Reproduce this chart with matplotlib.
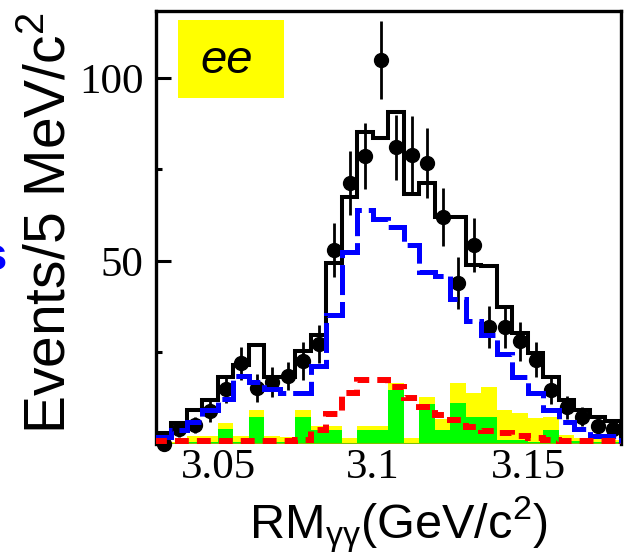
import matplotlib as mpl
import matplotlib.pyplot as plt
import numpy as np
from matplotlib.patches import Rectangle

mpl.rcParams["lines.scale_dashes"] = False
mpl.rcParams["mathtext.fontset"] = "custom"
mpl.rcParams["mathtext.rm"] = "Liberation Sans"
mpl.rcParams["mathtext.it"] = "Liberation Sans:italic"

# 5 MeV bins of the recoil mass against the photon pair (GeV/c^2)
bin_edges = [3.030, 3.035, 3.040, 3.045, 3.050, 3.055, 3.060, 3.065, 3.070, 3.075,
             3.080, 3.085, 3.090, 3.095, 3.100, 3.105, 3.110, 3.115, 3.120, 3.125,
             3.130, 3.135, 3.140, 3.145, 3.150, 3.155, 3.160, 3.165, 3.170, 3.175,
             3.180]

# total fit
fit_total = [3.0, 5.6, 9.3, 12.0, 18.4, 21.6, 27.0, 18.4, 18.4, 25.4,
             29.8, 49.5, 67.5, 85.2, 83.6, 90.7, 68.3, 71.3, 62.0, 62.0,
             49.0, 48.6, 37.4, 30.3, 24.9, 18.3, 12.0, 9.3, 7.4, 6.3]
# signal component
fit_signal = [2.0, 3.7, 6.0, 9.3, 12.3, 18.6, 17.0, 15.0, 14.0, 14.0,
              21.3, 35.3, 52.5, 64.0, 61.5, 59.3, 54.4, 47.0, 46.0, 39.5,
              33.5, 29.9, 24.5, 18.3, 14.0, 9.3, 6.0, 4.0, 2.3, 2.3]
# peaking background
fit_peaking = [0.8, 0.8, 0.8, 0.8, 0.8, 0.8, 0.8, 0.8, 0.8, 1.0,
               3.8, 8.3, 13.8, 17.5, 17.5, 15.5, 12.5, 10.0, 8.0, 6.5,
               4.6, 3.5, 3.1, 2.3, 1.6, 1.1, 0.9, 0.8, 0.8, 0.8]
# stacked backgrounds
bkg_stack = [0.5, 0.5, 2.2, 2.2, 5.7, 2.2, 9.3, 2.2, 2.0, 9.3,
             4.9, 4.9, 1.5, 4.9, 4.9, 16.7, 1.5, 12.8, 6.8, 16.7,
             13.9, 15.6, 9.3, 8.4, 7.0, 7.4, 2.4, 1.5, 1.5, 1.0]
bkg_green = [0.3, 0.3, 0.5, 0.5, 4.0, 0.5, 7.4, 0.5, 0.5, 7.4,
             3.9, 3.9, 0.3, 3.9, 3.9, 14.8, 0.3, 11.0, 3.9, 11.2,
             7.4, 7.4, 1.0, 1.0, 0.5, 3.8, 0.8, 0.8, 0.5, 0.5]

# data
data_counts = [0.0, 4.0, 5.2, 9.0, 15.0, 22.0, 15.3, 17.0, 18.5, 22.6,
               27.2, 53.0, 71.3, 78.7, 104.9, 81.0, 79.0, 76.8, 62.0, 44.0,
               54.4, 32.0, 32.0, 28.0, 23.0, 14.8, 10.0, 7.5, 5.0, 4.0]
data_err = [0.0, 2.0, 2.3, 3.0, 3.9, 4.6, 3.9, 4.1, 3.8, 5.2,
            5.2, 7.5, 8.8, 9.1, 10.6, 8.8, 10.5, 9.6, 8.0, 7.0,
            7.4, 5.7, 5.7, 5.3, 4.8, 3.8, 3.2, 2.7, 2.2, 2.0]

edges = np.array(bin_edges)
centers = 0.5 * (edges[:-1] + edges[1:])

fig = plt.figure(figsize=(6.27, 5.54), dpi=100)
ax = fig.add_axes([0.2488, 0.1986, 0.7416, 0.7816])

ax.stairs(bkg_stack, edges, fill=True, color="#ffff00", lw=0, zorder=1)
ax.stairs(bkg_green, edges, fill=True, color="#00ff00", lw=0, zorder=1.1)
ax.axhline(0, color="#80c000", lw=2.2, zorder=1.2)
ax.stairs(fit_total, edges, color="black", lw=2.9, zorder=2)
ax.errorbar(centers, data_counts, yerr=data_err, fmt="o", color="black",
            ms=10, elinewidth=2, capsize=0, zorder=3, clip_on=False)
ax.stairs(fit_signal, edges, color="#0000ff", lw=3.6,
          linestyle=(0, (21.6, 5.0)), zorder=4)
ax.stairs(fit_peaking, edges, color="#ff0000", lw=4.3,
          linestyle=(0, (10.0, 5.8)), zorder=5)

ax.set_xlim(3.03, 3.18)
ax.set_ylim(0, 118.3)
ax.set_xticks([3.05, 3.1, 3.15], ["3.05", "3.1", "3.15"])
ax.set_yticks([50, 100], ["50", "100"])
ax.set_yticks([25, 75], minor=True)
ax.tick_params(axis="y", which="major", direction="in", length=11, width=2.2,
               pad=9, labelsize=31, labelfontfamily="Liberation Serif")
ax.tick_params(axis="y", which="minor", direction="in", length=4.5, width=2.2)
ax.tick_params(axis="x", which="both", length=0, pad=3, labelsize=31,
               labelfontfamily="Liberation Serif")
ax.spines["bottom"].set_visible(False)
for side in ("left", "top", "right"):
    ax.spines[side].set_linewidth(2.4)

ax.set_ylabel(r"Events/5 MeV/c$^2$", fontsize=41, family="Liberation Sans")
ax.yaxis.set_label_coords(-0.226, 0.51)
ax.yaxis.label.set_va("center")
ax.set_xlabel(r"RM$_{\mathrm{\gamma\gamma}}$(GeV/c$^2$)", fontsize=35,
              family="Liberation Sans")
ax.xaxis.set_label_coords(0.52, -0.115)

ax.add_patch(Rectangle((0.047, 0.799), 0.228, 0.18, transform=ax.transAxes,
                       facecolor="#ffff00", edgecolor="none", zorder=6))
ax.text(0.153, 0.885, "ee", transform=ax.transAxes, fontsize=34,
        style="italic", family="Liberation Sans", ha="center", va="center",
        zorder=7)

# tail of the neighbouring panel's label
fig.text(7 / 627, 1 - 258 / 554, "s", color="#0000ff", fontsize=34,
         fontweight="bold", family="Liberation Sans", ha="right", va="center")

fig.savefig("out.png", dpi=100)
